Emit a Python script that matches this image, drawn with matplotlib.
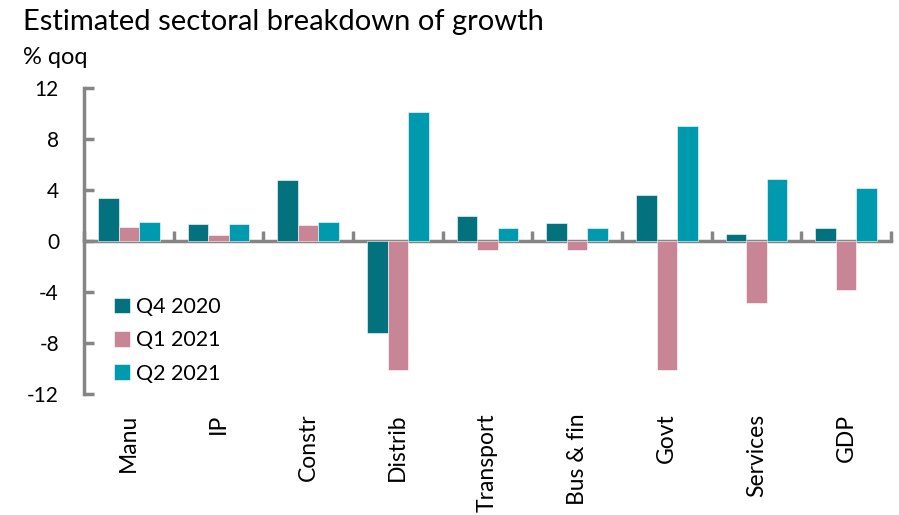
import matplotlib.pyplot as plt
import numpy as np

categories = ["Manu", "IP", "Constr", "Distrib", "Transport", "Bus & fin", "Govt", "Services", "GDP"]
q4_2020 = [3.4, 1.3, 4.8, -7.2, 2.0, 1.4, 3.6, 0.55, 1.0]
q1_2021 = [1.1, 0.45, 1.25, -10.1, -0.7, -0.7, -10.1, -4.9, -3.85]
q2_2021 = [1.5, 1.35, 1.5, 10.1, 1.0, 1.0, 9.0, 4.85, 4.15]

series = [("Q4 2020", q4_2020, "#04717E"),
          ("Q1 2021", q1_2021, "#C88596"),
          ("Q2 2021", q2_2021, "#009AAE")]

plt.rcParams["font.family"] = ["Lato", "DejaVu Sans"]
grey = "#858585"

fig = plt.figure(figsize=(8.99, 5.15), dpi=100)
ax = fig.add_axes([84 / 899, 1 - 394 / 515, (891 - 84) / 899, (394 - 88) / 515])

x = np.arange(len(categories))
w = 0.23
for i, (name, vals, col) in enumerate(series):
    ax.bar(x + (i - 1) * w, vals, width=w, color=col, label=name,
           edgecolor="white", linewidth=0.4)

ax.set_xlim(-0.5, len(categories) - 0.5)
ax.set_ylim(-12, 12)
ax.set_yticks([-12, -8, -4, 0, 4, 8, 12])
ax.set_yticklabels(["-12", "-8", "-4", "0", "4", "8", "12"])
ax.tick_params(axis="y", direction="in", length=7, width=2.5, color=grey,
               labelsize=15, pad=18)

for s in ["top", "right", "bottom"]:
    ax.spines[s].set_visible(False)
ax.spines["left"].set_color(grey)
ax.spines["left"].set_linewidth(2.5)

ax.set_xticks(x)
ax.set_xticklabels(categories, rotation=90, fontsize=16.5, va="top")
ax.tick_params(axis="x", length=0, pad=14)

# zero line with category separators
zero = ax.secondary_xaxis(0.5)
zero.set_xticks(np.arange(len(categories) + 1) - 0.5)
zero.set_xticklabels([])
zero.tick_params(direction="out", length=7, width=2.5, color=grey)
for s in zero.spines.values():
    s.set_color(grey)
    s.set_linewidth(2.5)

leg = ax.legend(loc="upper left", bbox_to_anchor=(0.026, 0.345), frameon=False,
                fontsize=15.5, handlelength=0.75, handleheight=0.75,
                handletextpad=0.3, labelspacing=0.62, borderaxespad=0)

fig.text(23 / 899, 1 - 22 / 515, "Estimated sectoral breakdown of growth",
         fontsize=21, va="center", ha="left")
fig.text(23 / 899, 1 - 57 / 515, "% qoq", fontsize=17, va="center", ha="left")

fig.savefig("out.png", dpi=100)
